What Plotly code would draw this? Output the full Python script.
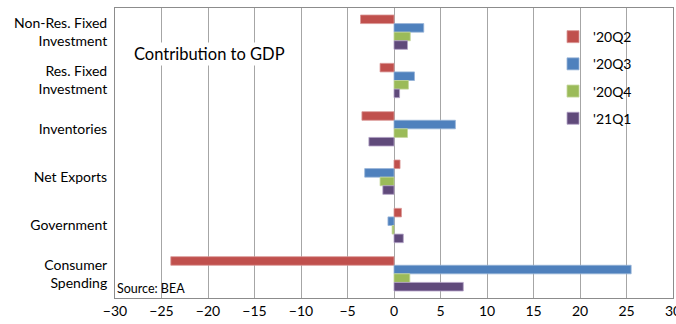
import plotly.graph_objects as go

# Contribution to real GDP growth by component (percentage points)
categories = ["Non-Res. Fixed<br>Investment", "Res. Fixed<br>Investment", "Inventories",
              "Net Exports", "Government", "Consumer<br>Spending"]
quarters = ["'20Q2", "'20Q3", "'20Q4", "'21Q1"]
q20q2 = [-3.6, -1.5, -3.45, 0.65, 0.8, -24.0]
q20q3 = [3.2, 2.2, 6.6, -3.15, -0.65, 25.5]
q20q4 = [1.75, 1.55, 1.45, -1.5, -0.2, 1.7]
q21q1 = [1.45, 0.6, -2.7, -1.2, 1.0, 7.45]
x_ticks = list(range(-30, 31, 5))

colors = ["#C0504D", "#4F81BD", "#9BBB59", "#604A7B"]
outlines = ["#D99694", "#95B3D7", "#C3D69B", "#B3A2C7"]
series = [q20q2, q20q3, q20q4, q21q1]

font_family = "Lato, 'Open Sans', sans-serif"

fig = go.Figure()
for name, vals, c, oc in zip(quarters, series, colors, outlines):
    fig.add_trace(go.Bar(
        y=categories, x=vals, name=name, orientation="h",
        marker=dict(color=c, line=dict(color=oc, width=0.8)),
        legendgroup=name,
    ))

fig.update_layout(
    width=676, height=324,
    margin=dict(l=115, r=3, t=8, b=26, autoexpand=False),
    paper_bgcolor="white", plot_bgcolor="white",
    barmode="group", bargap=0.29, bargroupgap=0.0,
    font=dict(family=font_family, size=14, color="#000000"),
    showlegend=True,
    legend=dict(x=0.785, y=0.955, xanchor="left", yanchor="top",
                font=dict(size=14, family=font_family),
                tracegroupgap=6, bgcolor="rgba(0,0,0,0)"),
    xaxis=dict(range=[-30, 30], tickvals=x_ticks, ticks="",
               showgrid=True, gridcolor="#A6A6A6", gridwidth=1,
               zeroline=False, showline=True, linecolor="#8C8C8C", mirror=True,
               automargin=False, ticklabeloverflow="allow", tickfont=dict(size=14)),
    yaxis=dict(categoryorder="array", categoryarray=categories,
               autorange="reversed", showgrid=False, ticks="",
               showline=True, linecolor="#8C8C8C", mirror=True, automargin=False,
               ticklabelstandoff=4, tickfont=dict(size=14)),
    annotations=[
        dict(text="Contribution to GDP", xref="paper", yref="paper",
             x=0.03, y=0.84, xanchor="left", yanchor="middle", showarrow=False,
             font=dict(size=16.5), bgcolor="white"),
        dict(text="Source: BEA", xref="paper", yref="paper",
             x=0.0, y=0.0, xanchor="left", yanchor="bottom", showarrow=False,
             font=dict(size=12.5), xshift=0),
    ],
)

fig.write_html("out.html")
